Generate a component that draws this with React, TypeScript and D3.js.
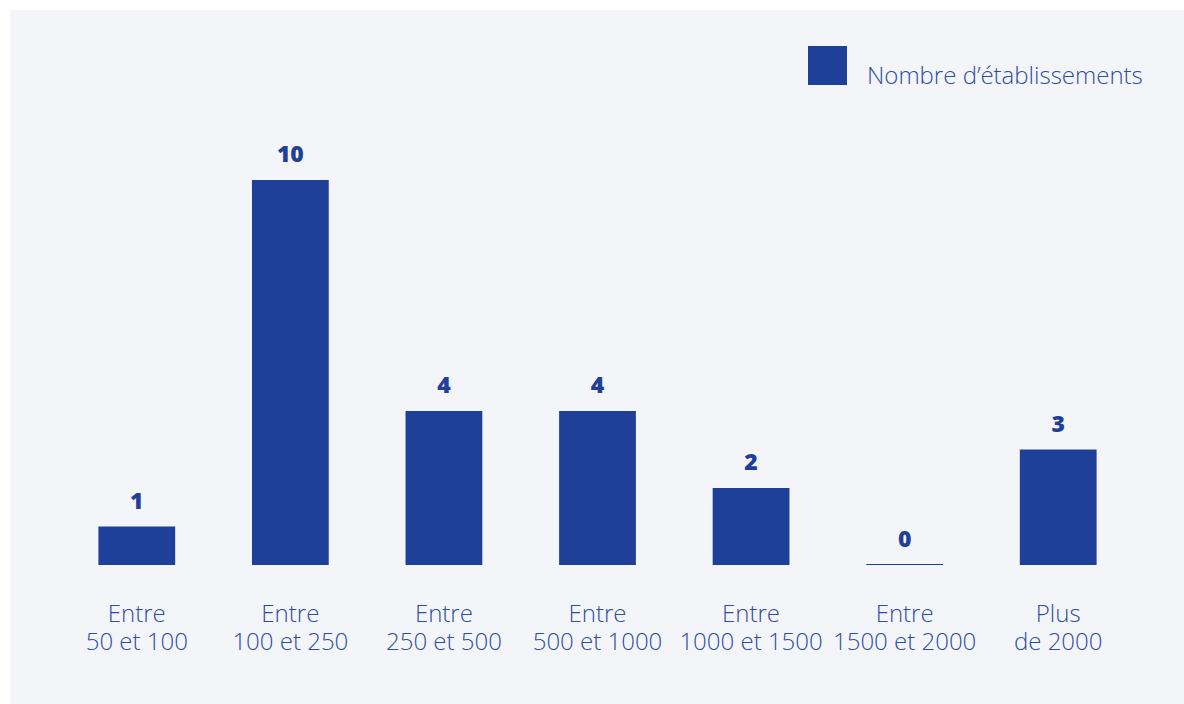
import React from "react";
import * as d3 from "d3";

const categories: string[][] = [
  ["Entre", "50 et 100"],
  ["Entre", "100 et 250"],
  ["Entre", "250 et 500"],
  ["Entre", "500 et 1000"],
  ["Entre", "1000 et 1500"],
  ["Entre", "1500 et 2000"],
  ["Plus", "de 2000"],
];
const values: number[] = [1, 10, 4, 4, 2, 0, 3];
const seriesName = "Nombre d\u2019établissements";

const W = 1184;
const H = 704;
const BAR = "#1f4099";
const TEXT = "#2d4da3";
const BG = "#f4f5f9";
const FONT = "'Open Sans', 'Noto Sans', sans-serif";

export default function App() {
  const x = d3
    .scaleBand<number>()
    .domain(values.map((_, i) => i))
    .range([60, 1135])
    .paddingInner(0.5)
    .paddingOuter(0.25);
  const y = d3.scaleLinear().domain([0, 10]).range([565, 180]);

  return (
    <>
      <style>{`html,body{margin:0;padding:0;overflow:hidden;}`}</style>
      <svg width={W} height={H} style={{ display: "block" }}>
        <rect x={10} y={10} width={W - 10} height={H - 10} fill={BG} />
        {values.map((v, i) => {
          const h = Math.max(1, y(0) - y(v));
          const cx = (x(i) as number) + x.bandwidth() / 2;
          return (
            <g key={i}>
              <rect x={x(i)} y={y(0) - h} width={x.bandwidth()} height={h} fill={BAR} />
              <text
                x={cx}
                y={y(v) - 18}
                textAnchor="middle"
                fontFamily={FONT}
                fontWeight={800}
                fontSize={23}
                fill={BAR}
              >
                {v}
              </text>
              {categories[i].map((line, j) => (
                <text
                  key={j}
                  x={cx}
                  y={622 + j * 28}
                  textAnchor="middle"
                  fontFamily={FONT}
                  fontWeight={300}
                  fontSize={24}
                  fill={TEXT}
                >
                  {line}
                </text>
              ))}
            </g>
          );
        })}
        <rect x={808} y={46} width={39} height={39} fill={BAR} />
        <text x={867} y={84} fontFamily={FONT} fontWeight={300} fontSize={24} fill={TEXT}>
          {seriesName}
        </text>
      </svg>
    </>
  );
}
